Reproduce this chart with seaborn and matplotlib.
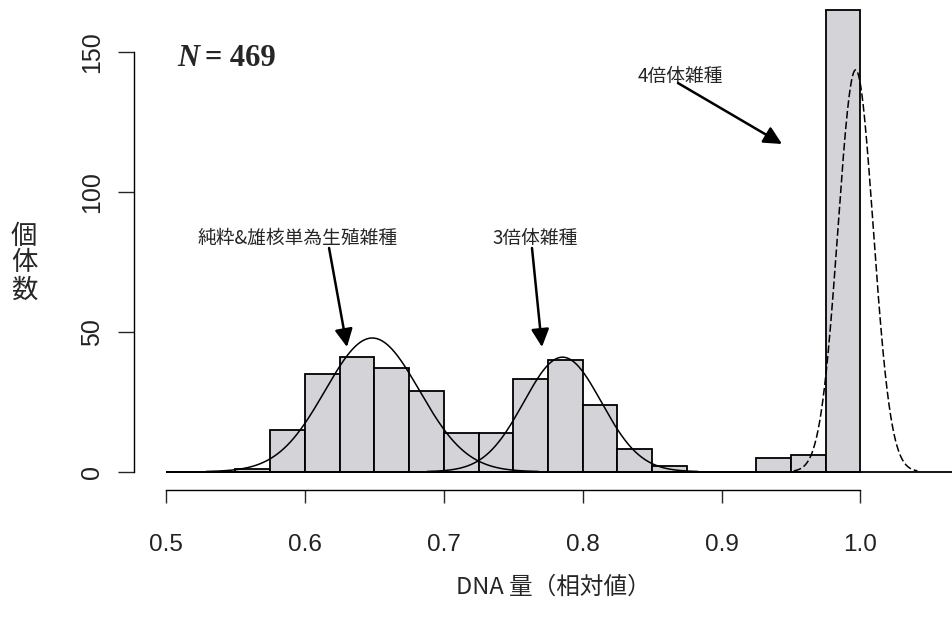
import numpy as np
import pandas as pd
import seaborn as sns
import matplotlib.pyplot as plt

# ヒストグラム (階級幅 0.025)
bin_edges = [0.500, 0.525, 0.550, 0.575, 0.600, 0.625, 0.650, 0.675, 0.700, 0.725, 0.750,
             0.775, 0.800, 0.825, 0.850, 0.875, 0.900, 0.925, 0.950, 0.975, 1.000]
counts = [0, 0, 1, 15, 35, 41, 37, 29, 14, 14, 33,
          40, 24, 8, 2, 0, 0, 5, 6, 165]

# 正規分布曲線 (平均, 標準偏差, 個体数, 描画範囲)
curve_mean = [0.6485, 0.7855, 0.9965]
curve_sd = [0.0340, 0.0280, 0.0127]
curve_n = [163, 115, 183]
curve_lo = [0.529, 0.688, 0.952]
curve_hi = [0.768, 0.883, 1.041]
curve_style = ['-', '-', (0, (5, 2))]

x_ticks = [0.5, 0.6, 0.7, 0.8, 0.9, 1.0]
x_ticklabels = ['0.5', '0.6', '0.7', '0.8', '0.9', '1.0']
y_ticks = [0, 50, 100, 150]

labels = ['純粋&雄核単為生殖雑種', '3倍体雑種', '4倍体雑種']

sns.set_style('white')
plt.rcParams['font.family'] = ['Noto Sans CJK JP', 'DejaVu Sans']

fig = plt.figure(figsize=(9.52, 6.19), dpi=100)
ax = fig.add_axes([150 / 952, 1 - 478 / 619, 802 / 952, 478 / 619])

bw = bin_edges[1] - bin_edges[0]
mids = [e + bw / 2 for e in bin_edges[:-1]]
df = pd.DataFrame({'dna': mids, 'n': counts})
sns.histplot(data=df, x='dna', weights='n', bins=bin_edges, stat='count',
             color='#d4d3d8', edgecolor='black', linewidth=1.3, alpha=1, ax=ax)

# 基線
ax.hlines(0, 0.5, 1.2, color='black', lw=1.3)

for m, s, n, lo, hi, ls in zip(curve_mean, curve_sd, curve_n, curve_lo, curve_hi, curve_style):
    xs = np.linspace(lo, hi, 400)
    ys = n * bw * np.exp(-0.5 * ((xs - m) / s) ** 2) / (s * np.sqrt(2 * np.pi))
    ax.plot(xs, ys, color='black', lw=1.1, linestyle=ls)

ax.set_xlim(0.48848, 1.06588)
ax.set_ylim(-2.25, 168.7)
ax.set_xlabel('')
ax.set_ylabel('')

for side in ['top', 'right']:
    ax.spines[side].set_visible(False)
ax.spines['bottom'].set_position(('outward', 8.6))
ax.spines['bottom'].set_bounds(0.5, 1.0)
ax.spines['left'].set_position(('outward', 11.5))
ax.spines['left'].set_bounds(0, 150)
for side in ['bottom', 'left']:
    ax.spines[side].set_linewidth(1.0)
    ax.spines[side].set_color('black')

ax.set_xticks(x_ticks)
ax.set_xticklabels(x_ticklabels, fontsize=17.5, color='#222222',
                   family=['Liberation Sans', 'DejaVu Sans'])
ax.set_yticks(y_ticks)
ax.set_yticklabels([str(v) for v in y_ticks], fontsize=18, color='#222222', rotation=90,
                   va='center', family=['Liberation Sans Narrow', 'Liberation Sans'])
ax.tick_params(axis='x', direction='out', length=9.4, width=1.0, pad=22, bottom=True)
ax.tick_params(axis='y', direction='out', length=11.5, width=1.0, pad=10, left=True)

# N = 469
ax.text(0.5079, 147.9, 'N', fontsize=22, fontweight='bold', fontstyle='italic',
        family='Liberation Serif', ha='left', va='center')
ax.text(0.5281, 147.9, '= 469', fontsize=22, fontweight='bold',
        family='Liberation Serif', ha='left', va='center')

# 注釈
text_pos = [(0.5230, 83.4), (0.7347, 83.4), (0.8398, 141.2)]
arrow_from = [(0.6174, 80.0), (0.7635, 80.0), (0.8686, 139.0)]
arrow_to = [(0.6303, 44.6), (0.7707, 44.6), (0.9435, 117.2)]
for lab, tp, a0, a1 in zip(labels, text_pos, arrow_from, arrow_to):
    ax.text(tp[0], tp[1], lab, fontsize=13.5, ha='left', va='center')
    ax.annotate('', xy=a1, xytext=a0,
                arrowprops=dict(arrowstyle='-|>,head_length=0.4,head_width=0.2',
                                color='black', lw=1.8, mutation_scale=27,
                                shrinkA=0, shrinkB=0))

fig.text(553 / 952, 1 - 587 / 619, 'DNA 量（相対値）', fontsize=17, ha='center', va='center')
fig.text(24 / 952, 1 - 263 / 619, '個\n体\n数', fontsize=19, ha='center', va='center',
         linespacing=1.0)

fig.savefig('out.png', dpi=100)
